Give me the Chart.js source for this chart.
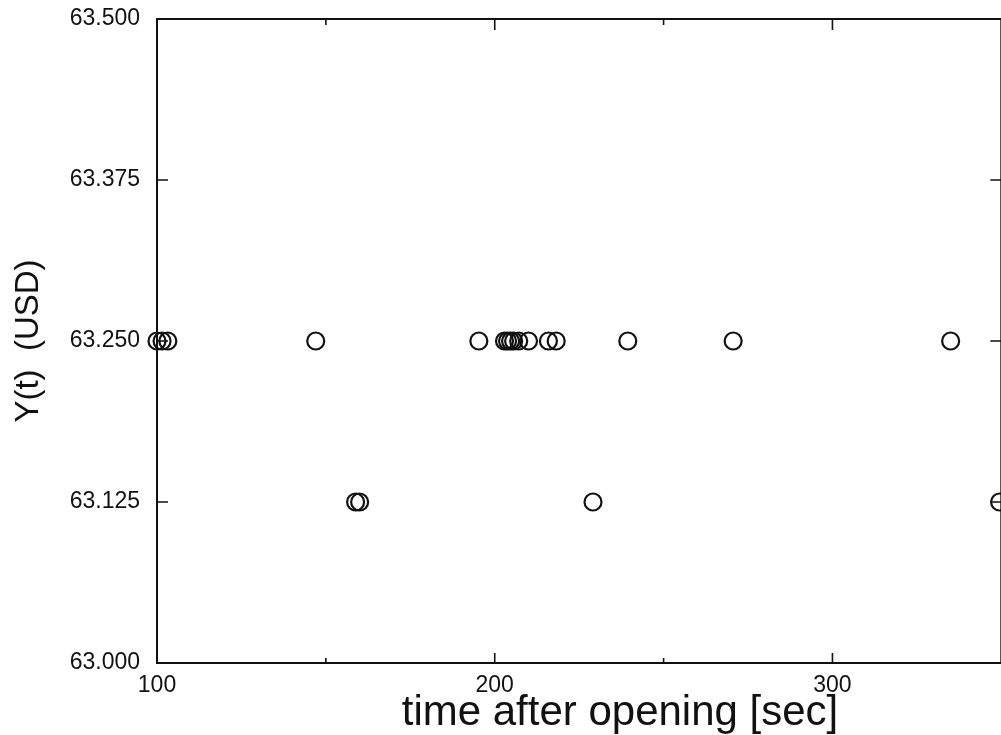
<!DOCTYPE html>
<html>
<head>
<meta charset="utf-8">
<title>Y(t) after opening</title>
<script src="https://cdn.jsdelivr.net/npm/chart.js@4/dist/chart.umd.min.js"></script>
<style>
  html, body { margin: 0; padding: 0; background: #fff; overflow: hidden; }
  #wrap { width: 1012px; height: 735px; }
</style>
</head>
<body>
<div id="wrap"><canvas id="trades" width="1012" height="735"></canvas></div>
<script>
// trade times [sec after opening] and the price printed at each one (USD)
const tradeTimes  = [100.0, 101.5, 103.2, 147.0, 158.8, 160.0, 195.3, 202.9, 203.8, 204.7,
                     205.6, 207.1, 210.0, 215.9, 218.2, 229.1, 239.4, 270.6, 335.0, 349.5];
const tradePrices = [63.25, 63.25, 63.25, 63.25, 63.125, 63.125, 63.25, 63.25, 63.25, 63.25,
                     63.25, 63.25, 63.25, 63.25, 63.25, 63.125, 63.25, 63.25, 63.25, 63.125];
const xRange = [100, 350];
const yRange = [63.0, 63.5];
const xLabeled = [100, 200, 300];

const FONT = '"Liberation Sans", Arial, Helvetica, sans-serif';
const INK = '#111';

const points = tradeTimes.map((t, i) => ({ x: t, y: tradePrices[i] }));

// frame box + tick marks pointing into the plot, and both axis titles
const frame = {
  id: 'frame',
  afterDraw(chart) {
    const { ctx, chartArea: a, scales: { x, y } } = chart;
    ctx.save();
    ctx.strokeStyle = INK;
    ctx.lineWidth = 2;
    ctx.strokeRect(a.left, a.top, a.right - a.left, a.bottom - a.top);

    ctx.lineWidth = 1.6;
    ctx.beginPath();
    x.ticks.forEach(t => {
      if (t.value <= xRange[0] || t.value >= xRange[1]) return;
      const px = x.getPixelForValue(t.value);
      const major = xLabeled.includes(t.value);
      ctx.moveTo(px, a.bottom); ctx.lineTo(px, a.bottom - (major ? 10 : 5));
      ctx.moveTo(px, a.top);    ctx.lineTo(px, a.top + (major ? 11 : 6));
    });
    y.ticks.forEach(t => {
      if (t.value <= yRange[0] || t.value >= yRange[1]) return;
      const py = y.getPixelForValue(t.value);
      ctx.moveTo(a.left, py);  ctx.lineTo(a.left + 11, py);
      ctx.moveTo(a.right, py); ctx.lineTo(a.right - 11, py);
    });
    ctx.stroke();

    ctx.fillStyle = INK;
    ctx.textAlign = 'center';
    ctx.textBaseline = 'middle';
    ctx.font = '42px ' + FONT;
    ctx.fillText('time after opening [sec]', a.left + 463, a.bottom + 50);

    ctx.translate(29, (a.top + a.bottom) / 2);
    ctx.rotate(-Math.PI / 2);
    ctx.font = '33px ' + FONT;
    ctx.fillText('Y(t)  (USD)', 0, 0);
    ctx.restore();
  }
};

new Chart(document.getElementById('trades').getContext('2d'), {
  type: 'scatter',
  data: {
    datasets: [{
      data: points,
      pointStyle: 'circle',
      pointRadius: 8.5,
      pointHoverRadius: 8.5,
      borderColor: INK,
      borderWidth: 2.2,
      backgroundColor: 'rgba(0,0,0,0)',
      clip: false,
    }],
  },
  options: {
    responsive: false,
    animation: false,
    devicePixelRatio: 1,
    layout: { padding: { left: 0, right: 4, top: 19, bottom: 0 } },
    plugins: { legend: { display: false }, tooltip: { enabled: false } },
    scales: {
      x: {
        type: 'linear',
        min: xRange[0], max: xRange[1],
        grid: { display: false, drawTicks: false },
        border: { display: false },
        ticks: {
          stepSize: 50, autoSkip: false, maxRotation: 0, padding: 9,
          color: INK, font: { family: FONT, size: 23 },
          callback: v => xLabeled.includes(v) ? String(v) : '',
        },
        afterFit: s => { s.height = 72; s.paddingLeft = 0; s.paddingRight = 0; },
      },
      y: {
        type: 'linear',
        min: yRange[0], max: yRange[1],
        grid: { display: false, drawTicks: false },
        border: { display: false },
        ticks: {
          stepSize: 0.125, padding: 17,
          color: INK, font: { family: FONT, size: 23 },
          callback: v => v.toFixed(3),
        },
        afterFit: s => { s.width = 157; s.paddingTop = 0; s.paddingBottom = 0; },
      },
    },
  },
  plugins: [frame],
});
</script>
</body>
</html>
